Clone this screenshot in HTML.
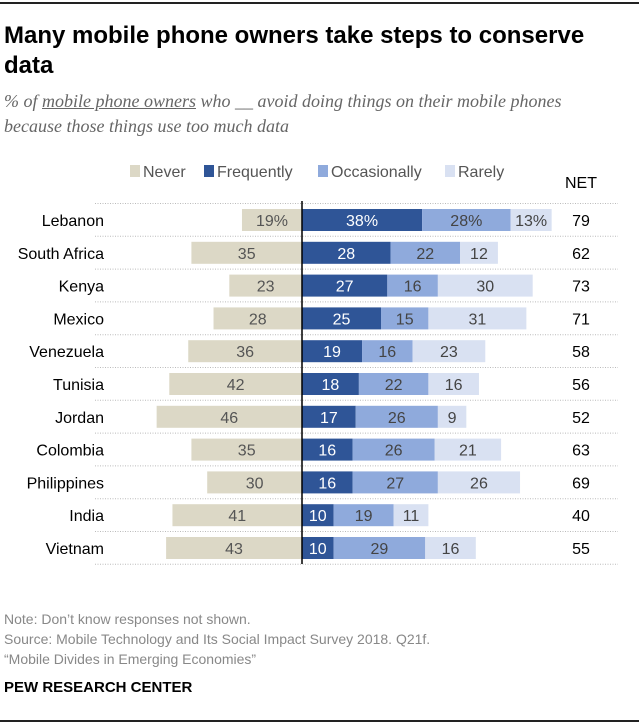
<!DOCTYPE html>
<html><head><meta charset="utf-8"><style>
body{margin:0;background:#fff;font-family:"Liberation Sans",sans-serif;}
#w{position:relative;width:639px;height:723px;overflow:hidden}
.t{position:absolute;left:4px;top:21px;font-size:24px;font-weight:bold;line-height:30px;color:#000;width:600px}
.s{position:absolute;left:4px;top:89px;font-family:"Liberation Serif",serif;font-style:italic;font-size:18px;line-height:25px;color:#666;width:600px}
.n{position:absolute;left:4px;top:609px;font-size:14px;line-height:20px;color:#888}
.p{position:absolute;left:4px;top:679px;font-size:15px;font-weight:bold;color:#000}
.bar{position:absolute;left:0;width:639px;height:2px;background:#222}
</style></head><body><div id="w">
<div class="bar" style="top:2px"></div>
<div class="t">Many mobile phone owners take steps to conserve data</div>
<div class="s">% of <span style="text-decoration:underline">mobile phone owners</span> who __ avoid doing things on their mobile phones because those things use too much data</div>
<svg id="c" width="639" height="723" style="position:absolute;left:0;top:0"></svg>
<div class="n">Note: Don’t know responses not shown.<br>Source: Mobile Technology and Its Social Impact Survey 2018. Q21f.<br>“Mobile Divides in Emerging Economies”</div>
<div class="p">PEW RESEARCH CENTER</div>
<div class="bar" style="top:720px"></div>
</div>
<script>
const countries=["Lebanon","South Africa","Kenya","Mexico","Venezuela","Tunisia","Jordan","Colombia","Philippines","India","Vietnam"];
const never=[19,35,23,28,36,42,46,35,30,41,43];
const frequently=[38,28,27,25,19,18,17,16,16,10,10];
const occasionally=[28,22,16,15,16,22,26,26,27,19,29];
const rarely=[13,12,30,31,23,16,9,21,26,11,16];
const net=[79,62,73,71,58,56,52,63,69,40,55];
const seriesNames=["Never","Frequently","Occasionally","Rarely"];
const colors=["#dcd8c6","#2f5597","#8faadc","#d9e1f2"];
const textColors=["#555","#fff","#444","#444"];
const NS="http://www.w3.org/2000/svg";
const svg=document.getElementById('c');
const x0=302,k=3.16;
const xs=v=>v*k;
const yRow=i=>209+i*32.8;
const bh=22;
function el(t,a){const e=document.createElementNS(NS,t);for(const q in a)e.setAttribute(q,a[q]);svg.appendChild(e);return e;}
function tx(x,y,s,a){const e=el('text',Object.assign({x:x,y:y,'font-size':16,'font-family':'Liberation Sans, sans-serif'},a));e.textContent=s;return e;}
const lx=[130,204,318,445];
seriesNames.forEach((s,j)=>{
 const r=el('rect',{x:lx[j],y:165,width:10,height:12,fill:colors[j]});
 
 
 const t=tx(lx[j]+13,177,s,{fill:'#555'});
 
 
});
const nh=tx(581,188,'NET',{'text-anchor':'middle',fill:'#000'});


for(let i=0;i<=countries.length;i++){
 const l=el('line',{x1:95,x2:618,y1:yRow(i)-5.5,y2:yRow(i)-5.5,stroke:'#bbb','stroke-dasharray':'1,1.5'});
 
 
}
countries.forEach((c,i)=>{
 const y=yRow(i),cy=y+bh/2+6;
 const lab=tx(104,cy,c,{'text-anchor':'end',fill:'#000'});
 
 
 const vals=[never[i],frequently[i],occasionally[i],rarely[i]];
 const sfx=i===0?'%':'';
 const nw=xs(vals[0]);
 const r0=el('rect',{x:x0-nw,y:y,width:nw,height:bh,fill:colors[0]});
 
 
 tx(x0-nw/2,cy,vals[0]+sfx,{'text-anchor':'middle',fill:textColors[0]});
 let cx=x0;
 for(let j=1;j<4;j++){
  const w=xs(vals[j]);
  const r=el('rect',{x:cx,y:y,width:w,height:bh,fill:colors[j]});
  
  
  tx(cx+w/2,cy,vals[j]+sfx,{'text-anchor':'middle',fill:textColors[j]});
  cx+=w;
 }
 const nt=tx(581,cy,net[i],{'text-anchor':'middle',fill:'#000'});
 
 
});
const ax=el('line',{x1:x0,x2:x0,y1:201,y2:564,stroke:'#000','stroke-width':1.5});


</script></body></html>
